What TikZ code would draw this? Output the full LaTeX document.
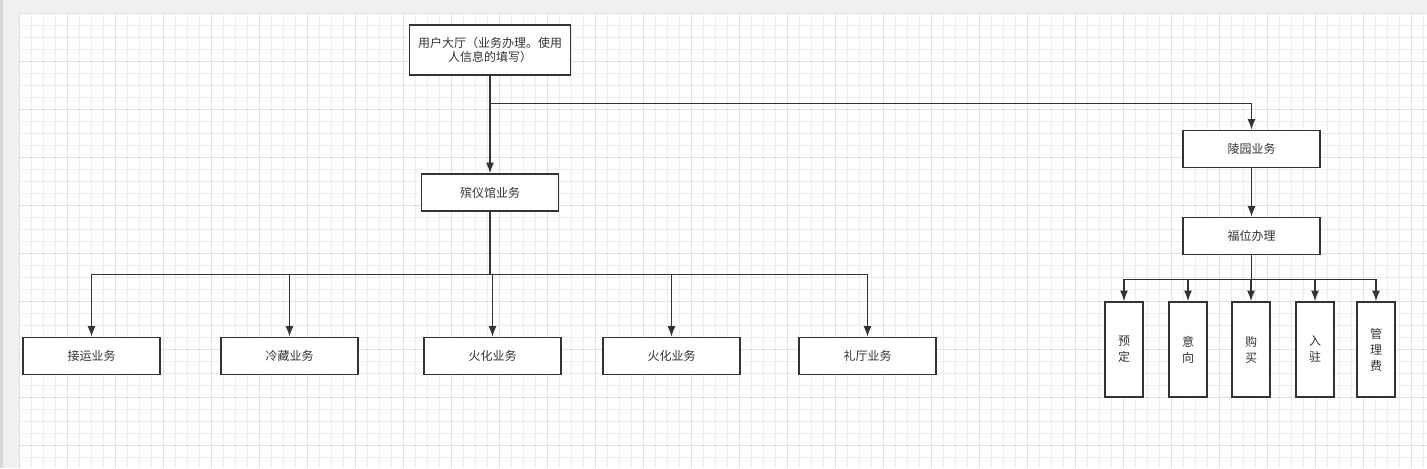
\documentclass[tikz,border=0pt]{standalone}
\usepackage{fontspec}
\setmainfont{Noto Sans CJK SC}
\usetikzlibrary{positioning,arrows.meta}
\definecolor{pagegray}{HTML}{F0F0F0}
\definecolor{stripgray}{HTML}{D6D6DC}
\definecolor{gridminor}{HTML}{EDEDED}
\definecolor{gridmajor}{HTML}{E0E0E0}
\definecolor{inkgray}{HTML}{333333}
\tikzset{
	gridline/.style={gridminor, line width=0.6pt},
	gridbold/.style={gridmajor, line width=0.6pt},
	bizbox/.style={draw=inkgray, fill=white, line width=1.1pt, text=inkgray,
		font=\fontsize{9pt}{10.5pt}\selectfont, align=center,
		minimum width=102.75pt, minimum height=27.75pt, inner sep=1pt},
	tallbox/.style={bizbox, minimum width=28.5pt, minimum height=71.25pt,
		font=\fontsize{9pt}{12pt}\selectfont},
	link/.style={draw=inkgray, line width=1.1pt, -{Latex[length=8pt,width=6pt]}}
}
\begin{document}
\begin{tikzpicture}[x=0.75pt, y=-0.75pt]
	\useasboundingbox (0,0) rectangle (1427,468);
	\fill [pagegray] (0,0) rectangle (1427,468);
	\fill [stripgray] (0,0) rectangle (3,468);
	\fill [white] (19,13) rectangle (1427,468);% canvas
	\foreach \gx in {0,...,117} \draw [gridline] ({19+12*\gx},13) -- ({19+12*\gx},468);
	\foreach \gy in {0,...,37} \draw [gridline] (19,{13+12*\gy}) -- (1427,{13+12*\gy});
	\foreach \gx in {0,4,...,116} \draw [gridbold] ({19+12*\gx},13) -- ({19+12*\gx},468);
	\foreach \gy in {0,4,...,36} \draw [gridbold] (19,{13+12*\gy}) -- (1427,{13+12*\gy});
	
	% top level
	\node [bizbox, minimum width=120.75pt, minimum height=37.5pt] (hall) at (490,50) {用户大厅（业务办理。使用\\人信息的填写）};
	
	% funeral home branch
	\node [bizbox] (funeral) at (490,192.5) {殡仪馆业务};
	\node [bizbox] (pickup) at (91.5,356) {接运业务};
	\node [bizbox] (cold) at (289.5,356) {冷藏业务};
	\node [bizbox] (cremA) at (492.5,356) {火化业务};
	\node [bizbox] (cremB) at (671.5,356) {火化业务};
	\node [bizbox] (ritual) at (867.5,356) {礼厅业务};
	
	% cemetery branch
	\node [bizbox] (cemetery) at (1251.5,149) {陵园业务};
	\node [bizbox] (niche) at (1251.5,236) {福位办理};
	\node [tallbox] (reserve) at (1124,349.5) {预\\定};
	\node [tallbox] (intent) at (1188,349.5) {意\\向};
	\node [tallbox] (buy) at (1251,349.5) {购\\买};
	\node [tallbox] (movein) at (1315,349.5) {入\\驻};
	\node [tallbox] (fee) at (1376,349.5) {管\\理\\费};
	
	\draw [link] (hall.south) -- (funeral.north);
	\draw [link] (hall.south) -- ++(0,28) -| (cemetery.north);
	\foreach \child in {pickup,cold,cremA,cremB,ritual}
		\draw [link] (funeral.south) -- ++(0,63) -| (\child.north);
	\draw [link] (cemetery.south) -- (niche.north);
	\foreach \child in {reserve,intent,buy,movein,fee}
		\draw [link] (niche.south) -- ++(0,24) -| (\child.north);
\end{tikzpicture}
\end{document}
